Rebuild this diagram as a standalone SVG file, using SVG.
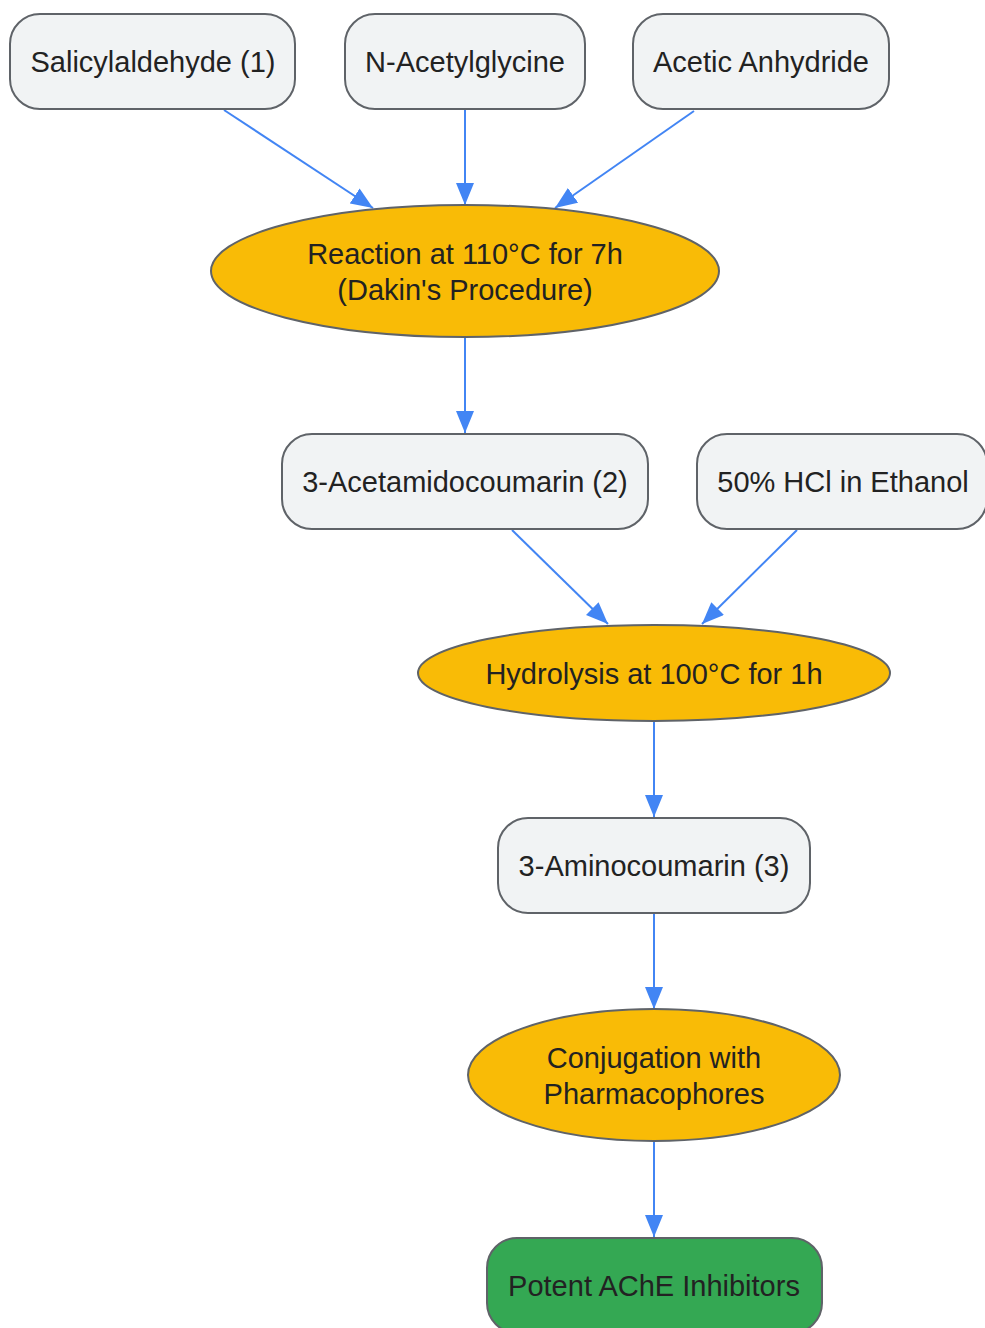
<svg xmlns="http://www.w3.org/2000/svg" width="985" height="1328" viewBox="0 0 985 1328">
<style>
.box{fill:#F1F3F4;stroke:#5F6368;stroke-width:2}
.proc{fill:#F9BB06;stroke:#5F6368;stroke-width:2}
.final{fill:#34A853;stroke:#5F6368;stroke-width:2}
text{font-family:"Liberation Sans",Arial,sans-serif;font-size:29px;fill:#222;text-anchor:middle}
.edge{stroke:#4285F4;stroke-width:2;fill:none;marker-end:url(#a2)}
</style>
<defs>
<marker id="a2" viewBox="0 0 22 18" refX="22" refY="9" markerWidth="22" markerHeight="18" markerUnits="userSpaceOnUse" orient="auto">
<path d="M0,0 L22,9 L0,18 z" fill="#4285F4"/>
</marker>
</defs>
<g id="connectors">
<line class="edge" x1="224" y1="110" x2="373" y2="208"/>
<line class="edge" x1="465" y1="110" x2="465" y2="205"/>
<line class="edge" x1="694" y1="111" x2="555" y2="208"/>
<line class="edge" x1="465" y1="338" x2="465" y2="433"/>
<line class="edge" x1="512" y1="530" x2="608" y2="624"/>
<line class="edge" x1="797" y1="530" x2="702" y2="624"/>
<line class="edge" x1="654" y1="721" x2="654" y2="817"/>
<line class="edge" x1="654" y1="914" x2="654" y2="1009"/>
<line class="edge" x1="654" y1="1142" x2="654" y2="1237"/>
</g>
<g id="salicylaldehyde">
<rect class="box" x="10" y="14" width="285" height="95" rx="30"/>
<text x="153" y="72">Salicylaldehyde (1)</text>
</g>
<g id="n-acetylglycine">
<rect class="box" x="345" y="14" width="240" height="95" rx="30"/>
<text x="465" y="72">N-Acetylglycine</text>
</g>
<g id="acetic-anhydride">
<rect class="box" x="633" y="14" width="256" height="95" rx="30"/>
<text x="761" y="72">Acetic Anhydride</text>
</g>
<g id="reaction">
<ellipse class="proc" cx="465" cy="271" rx="254" ry="66"/>
<text x="465" y="264">Reaction at 110°C for 7h</text>
<text x="465" y="300">(Dakin's Procedure)</text>
</g>
<g id="acetamidocoumarin">
<rect class="box" x="282" y="434" width="366" height="95" rx="30"/>
<text x="465" y="492">3-Acetamidocoumarin (2)</text>
</g>
<g id="hcl">
<rect class="box" x="697" y="434" width="290" height="95" rx="30"/>
<text x="843" y="492">50% HCl in Ethanol</text>
</g>
<g id="hydrolysis">
<ellipse class="proc" cx="654" cy="673" rx="236" ry="48"/>
<text x="654" y="684">Hydrolysis at 100°C for 1h</text>
</g>
<g id="aminocoumarin">
<rect class="box" x="498" y="818" width="312" height="95" rx="30"/>
<text x="654" y="876">3-Aminocoumarin (3)</text>
</g>
<g id="conjugation">
<ellipse class="proc" cx="654" cy="1075" rx="186" ry="66"/>
<text x="654" y="1068">Conjugation with</text>
<text x="654" y="1104">Pharmacophores</text>
</g>
<g id="ache-inhibitors">
<rect class="final" x="487" y="1238" width="335" height="95" rx="30"/>
<text x="654" y="1296">Potent AChE Inhibitors</text>
</g>
</svg>
